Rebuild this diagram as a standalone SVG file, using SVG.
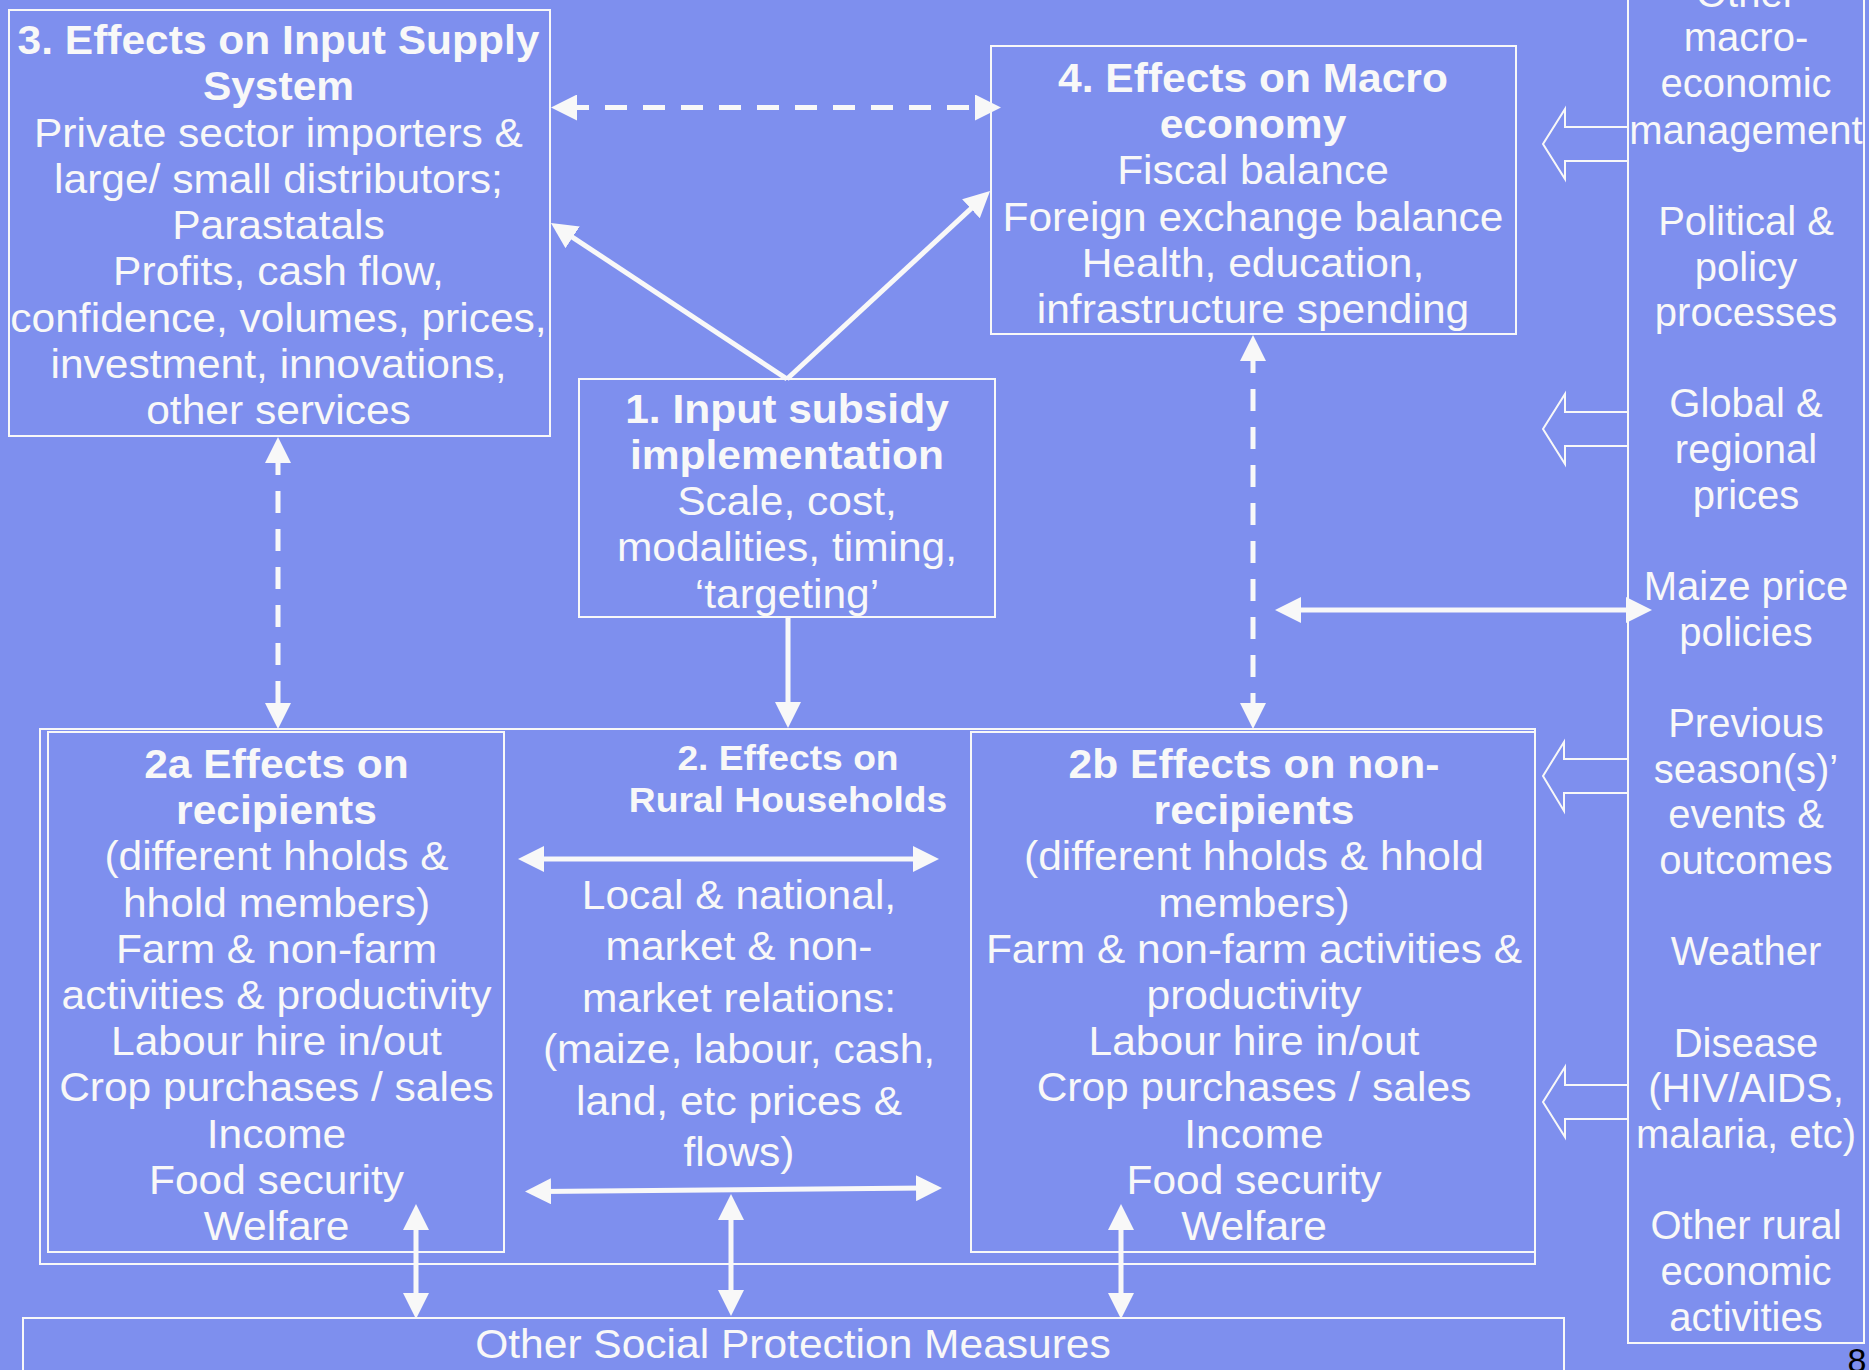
<svg xmlns="http://www.w3.org/2000/svg" width="1869" height="1370" viewBox="0 0 1869 1370">
<style>
.bg{fill:#7E8FEE}
.box{fill:none;stroke:#F8F8F8;stroke-width:2}
.t{font-family:"Liberation Sans",Arial,Helvetica,sans-serif;font-size:40px;fill:#F8F8F8;text-anchor:middle}
.b{font-weight:bold}
.s{font-size:35px}
.ln{stroke:#F8F8F8;stroke-width:5;fill:none}
.d{stroke-dasharray:22 16}
.ha{fill:none;stroke:#F8F8F8;stroke-width:2}
</style>
<defs>
<marker id="ah" markerUnits="userSpaceOnUse" markerWidth="26" markerHeight="26" refX="10" refY="13" orient="auto-start-reverse" viewBox="0 0 26 26">
<path d="M0,0 L26,13 L0,26 z" fill="#F8F8F8"/>
</marker>
</defs>
<rect class="bg" x="0" y="0" width="1869" height="1370"/>

<g id="node3">
<rect class="box" x="9" y="10" width="541" height="426"/>
<g transform="matrix(1.063,0,0,1,-17.55,0)">
<text class="t b" x="278.5" y="54">3. Effects on Input Supply</text>
<text class="t b" x="278.5" y="100.3">System</text>
<text class="t" x="278.5" y="146.6">Private sector importers &amp;</text>
<text class="t" x="278.5" y="192.9">large/ small distributors;</text>
<text class="t" x="278.5" y="239.2">Parastatals</text>
<text class="t" x="278.5" y="285.5">Profits, cash flow,</text>
<text class="t" x="278.5" y="331.8">confidence, volumes, prices,</text>
<text class="t" x="278.5" y="378.1">investment, innovations,</text>
<text class="t" x="278.5" y="424.4">other services</text>
</g>
</g>

<g id="node4">
<rect class="box" x="991" y="46" width="525" height="288"/>
<g transform="matrix(1.063,0,0,1,-78.94,0)">
<text class="t b" x="1253" y="92">4. Effects on Macro</text>
<text class="t b" x="1253" y="138.2">economy</text>
<text class="t" x="1253" y="184.4">Fiscal balance</text>
<text class="t" x="1253" y="230.6">Foreign exchange balance</text>
<text class="t" x="1253" y="276.8">Health, education,</text>
<text class="t" x="1253" y="323">infrastructure spending</text>
</g>
</g>

<g id="node1">
<rect class="box" x="579" y="379" width="416" height="238"/>
<g transform="matrix(1.063,0,0,1,-49.58,0)">
<text class="t b" x="787" y="423">1. Input subsidy</text>
<text class="t b" x="787" y="469">implementation</text>
<text class="t" x="787" y="515">Scale, cost,</text>
<text class="t" x="787" y="561">modalities, timing,</text>
<text class="t" x="787" y="608">‘targeting’</text>
</g>
</g>

<g id="node2">
<rect class="box" x="40" y="729" width="1495" height="535"/>
<g transform="matrix(1.063,0,0,1,-49.64,0)">
<text class="t b s" x="788" y="770.5">2. Effects on</text>
<text class="t b s" x="788" y="812">Rural Households</text>
</g>
<g transform="matrix(1.063,0,0,1,-46.56,0)">
<text class="t" x="739" y="909">Local &amp; national,</text>
<text class="t" x="739" y="960.5">market &amp; non-</text>
<text class="t" x="739" y="1012">market relations:</text>
<text class="t" x="739" y="1063">(maize, labour, cash,</text>
<text class="t" x="739" y="1115">land, etc prices &amp;</text>
<text class="t" x="739" y="1166">flows)</text>
</g>
</g>

<g id="node2a">
<rect class="box" x="48" y="732" width="456" height="520"/>
<g transform="matrix(1.063,0,0,1,-17.42,0)">
<text class="t b" x="276.5" y="778">2a Effects on</text>
<text class="t b" x="276.5" y="824.2">recipients</text>
<text class="t" x="276.5" y="870.4">(different hholds &amp;</text>
<text class="t" x="276.5" y="916.6">hhold members)</text>
<text class="t" x="276.5" y="962.8">Farm &amp; non-farm</text>
<text class="t" x="276.5" y="1009">activities &amp; productivity</text>
<text class="t" x="276.5" y="1055.2">Labour hire in/out</text>
<text class="t" x="276.5" y="1101.4">Crop purchases / sales</text>
<text class="t" x="276.5" y="1147.6">Income</text>
<text class="t" x="276.5" y="1193.8">Food security</text>
<text class="t" x="276.5" y="1240">Welfare</text>
</g>
</g>

<g id="node2b">
<rect class="box" x="971" y="732" width="564" height="520"/>
<g transform="matrix(1.063,0,0,1,-79,0)">
<text class="t b" x="1254" y="778">2b Effects on non-</text>
<text class="t b" x="1254" y="824.2">recipients</text>
<text class="t" x="1254" y="870.4">(different hholds &amp; hhold</text>
<text class="t" x="1254" y="916.6">members)</text>
<text class="t" x="1254" y="962.8">Farm &amp; non-farm activities &amp;</text>
<text class="t" x="1254" y="1009">productivity</text>
<text class="t" x="1254" y="1055.2">Labour hire in/out</text>
<text class="t" x="1254" y="1101.4">Crop purchases / sales</text>
<text class="t" x="1254" y="1147.6">Income</text>
<text class="t" x="1254" y="1193.8">Food security</text>
<text class="t" x="1254" y="1240">Welfare</text>
</g>
</g>

<g id="nodeSocial">
<rect class="box" x="23" y="1318" width="1541" height="70"/>
<g transform="matrix(1.063,0,0,1,-49.96,0)">
<text class="t" x="793" y="1358">Other Social Protection Measures</text>
</g>
</g>

<g id="nodeFactors">
<rect class="box" x="1628" y="-10" width="236" height="1353"/>
<text class="t" x="1746" y="6.5">Other</text>
<text class="t" x="1746" y="51">macro-</text>
<text class="t" x="1746" y="97">economic</text>
<text class="t" x="1746" y="143.5">management</text>
<text class="t" x="1746" y="234.8">Political &amp;</text>
<text class="t" x="1746" y="280.5">policy</text>
<text class="t" x="1746" y="326.1">processes</text>
<text class="t" x="1746" y="417.4">Global &amp;</text>
<text class="t" x="1746" y="463.1">regional</text>
<text class="t" x="1746" y="508.8">prices</text>
<text class="t" x="1746" y="600.1">Maize price</text>
<text class="t" x="1746" y="645.7">policies</text>
<text class="t" x="1746" y="737.1">Previous</text>
<text class="t" x="1746" y="782.7">season(s)’</text>
<text class="t" x="1746" y="828.4">events &amp;</text>
<text class="t" x="1746" y="874">outcomes</text>
<text class="t" x="1746" y="965.4">Weather</text>
<text class="t" x="1746" y="1056.7">Disease</text>
<text class="t" x="1746" y="1102.3">(HIV/AIDS,</text>
<text class="t" x="1746" y="1148">malaria, etc)</text>
<text class="t" x="1746" y="1239.3">Other rural</text>
<text class="t" x="1746" y="1285">economic</text>
<text class="t" x="1746" y="1330.6">activities</text>
</g>

<g id="pagenum">
<text x="1857" y="1372" style="font-family:'Liberation Sans',Arial,sans-serif;font-size:34px;fill:#000;text-anchor:middle">8</text>
</g>

<g id="connectors">
<line class="ln d" x1="567" y1="107.5" x2="985" y2="107.5" marker-start="url(#ah)" marker-end="url(#ah)"/>
<line class="ln d" x1="278" y1="453" x2="278" y2="713" marker-start="url(#ah)" marker-end="url(#ah)"/>
<line class="ln d" x1="1253" y1="351" x2="1253" y2="713" marker-start="url(#ah)" marker-end="url(#ah)"/>
<line class="ln" x1="787" y1="379" x2="564.3" y2="231.8" marker-end="url(#ah)"/>
<line class="ln" x1="787" y1="379" x2="978.3" y2="201.9" marker-end="url(#ah)"/>
<line class="ln" x1="788" y1="617" x2="788" y2="712" marker-end="url(#ah)"/>
<line class="ln" x1="1291" y1="610" x2="1636" y2="610" marker-start="url(#ah)" marker-end="url(#ah)"/>
<line class="ln" x1="534" y1="859" x2="923" y2="859" marker-start="url(#ah)" marker-end="url(#ah)"/>
<line class="ln" x1="541" y1="1191.4" x2="926" y2="1188.1" marker-start="url(#ah)" marker-end="url(#ah)"/>
<line class="ln" x1="731" y1="1210" x2="731" y2="1300" marker-start="url(#ah)" marker-end="url(#ah)"/>
<line class="ln" x1="416" y1="1220" x2="416" y2="1303" marker-start="url(#ah)" marker-end="url(#ah)"/>
<line class="ln" x1="1121" y1="1220" x2="1121" y2="1303" marker-start="url(#ah)" marker-end="url(#ah)"/>
<polyline class="ha" points="1628,127 1565,127 1565,109 1543,144 1565,179 1565,161 1628,161"/>
<polyline class="ha" points="1628,412 1565,412 1565,394 1543,429 1565,464 1565,446 1628,446"/>
<polyline class="ha" points="1628,759 1564,759 1564,742 1543,776 1564,811 1564,793 1628,793"/>
<polyline class="ha" points="1628,1085 1565,1085 1565,1067 1543,1102 1565,1137 1565,1119 1628,1119"/>
</g>
</svg>
